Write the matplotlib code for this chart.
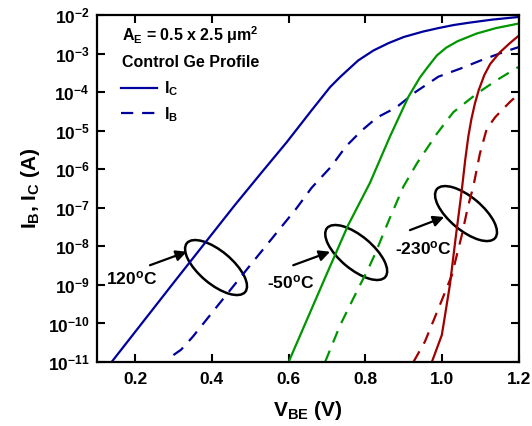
import numpy as np
import matplotlib
matplotlib.use("Agg")
import matplotlib.pyplot as plt
from matplotlib.patches import Ellipse
from matplotlib.ticker import MultipleLocator, LogLocator, FuncFormatter, NullLocator
from matplotlib.transforms import ScaledTranslation

plt.rcParams["font.family"] = ["Liberation Sans", "DejaVu Sans"]
plt.rcParams["font.weight"] = "bold"
plt.rcParams["axes.labelweight"] = "bold"
plt.rcParams["mathtext.fontset"] = "custom"
plt.rcParams["mathtext.rm"] = "Liberation Sans:bold"
plt.rcParams["mathtext.bf"] = "Liberation Sans:bold"
plt.rcParams["mathtext.it"] = "Liberation Sans:bold"
plt.rcParams["mathtext.default"] = "bf"

# VBE (V) and log10 of current (A)
vbe_ic_120 = [0.139, 0.30, 0.46, 0.53, 0.595, 0.66, 0.708, 0.734, 0.781, 0.821, 0.86, 0.90, 0.95, 0.99, 1.03, 1.07, 1.13, 1.20]
log_ic_120 = [-11.0, -8.95, -6.93, -6.08, -5.30, -4.47, -3.87, -3.61, -3.18, -2.92, -2.73, -2.57, -2.43, -2.34, -2.26, -2.20, -2.12, -2.05]
vbe_ib_120 = [0.30, 0.32, 0.35, 0.42, 0.50, 0.62, 0.66, 0.71, 0.75, 0.79, 0.83, 0.88, 0.93, 0.99, 1.05, 1.10, 1.16, 1.20]
log_ib_120 = [-10.82, -10.68, -10.35, -9.48, -8.49, -7.02, -6.48, -5.94, -5.40, -5.00, -4.66, -4.40, -4.00, -3.60, -3.38, -3.18, -2.96, -2.83]

vbe_ic_m50 = [0.60, 0.70, 0.755, 0.812, 0.864, 0.912, 0.942, 0.96, 0.986, 1.01, 1.04, 1.09, 1.14, 1.20]
log_ic_m50 = [-11.0, -8.7, -7.45, -6.35, -5.15, -4.12, -3.62, -3.38, -3.05, -2.85, -2.68, -2.48, -2.34, -2.22]
vbe_ib_m50 = [0.695, 0.734, 0.777, 0.808, 0.825, 0.86, 0.899, 0.934, 0.986, 1.029, 1.09, 1.142, 1.198]
log_ib_m50 = [-11.0, -10.05, -9.18, -8.57, -8.2, -7.35, -6.45, -5.85, -5.08, -4.52, -4.04, -3.69, -3.35]

vbe_ic_m230 = [0.973, 0.999, 1.020, 1.036, 1.046, 1.052, 1.060, 1.068, 1.076, 1.085, 1.095, 1.11, 1.125, 1.15, 1.175, 1.20]
log_ic_m230 = [-11.0, -10.3, -9.0, -7.7, -6.93, -6.45, -5.75, -5.15, -4.70, -4.30, -3.95, -3.55, -3.27, -2.97, -2.74, -2.53]
vbe_ib_m230 = [0.925, 0.955, 0.994, 1.025, 1.051, 1.068, 1.081, 1.098, 1.116, 1.138, 1.159, 1.18, 1.198]
log_ib_m230 = [-11.0, -10.47, -9.52, -8.75, -7.71, -6.93, -6.45, -5.6, -4.95, -4.65, -4.43, -4.22, -4.07]

temps = ["120$^{o}$C", "-50$^{o}$C", "-230$^{o}$C"]
colors = ["#00009c", "#009600", "#a00000"]

fig = plt.figure(figsize=(5.32, 4.26), dpi=100)
ax = fig.add_axes([0.1816, 0.1502, 0.7940, 0.8146])

dash = (0, (5.5, 4))
curves = [
    (vbe_ic_120, log_ic_120, vbe_ib_120, log_ib_120),
    (vbe_ic_m50, log_ic_m50, vbe_ib_m50, log_ib_m50),
    (vbe_ic_m230, log_ic_m230, vbe_ib_m230, log_ib_m230),
]
handles = []
for (xc, yc, xb, yb), c in zip(curves, colors):
    l1, = ax.plot(xc, 10.0 ** np.array(yc), color=c, lw=1.6)
    l2, = ax.plot(xb, 10.0 ** np.array(yb), color=c, lw=1.6, ls=dash)
    if not handles:
        handles = [l1, l2]

ax.set_yscale("log")
ax.set_xlim(0.1, 1.2)
ax.set_ylim(1e-11, 1e-2)

ax.xaxis.set_major_locator(MultipleLocator(0.2))
ax.xaxis.set_minor_locator(NullLocator())
ax.yaxis.set_major_locator(LogLocator(base=10, numticks=20))
ax.yaxis.set_minor_locator(NullLocator())
ax.yaxis.set_major_formatter(FuncFormatter(lambda v, p: r"$10^{%d}$" % round(np.log10(v))))
ax.xaxis.set_major_formatter(FuncFormatter(lambda v, p: "%.1f" % v))
ax.tick_params(direction="in", length=6, width=1.5, top=True, right=True, labelsize=12.5)
ax.tick_params(axis="y", pad=5)
ax.tick_params(axis="x", pad=7)
for lab in ax.get_xticklabels() + ax.get_yticklabels():
    lab.set_fontweight("bold")
for s in ax.spines.values():
    s.set_linewidth(1.6)

ax.set_xlabel("V$_{BE}$ (V)", fontsize=15, fontweight="bold", labelpad=9)
ax.set_ylabel("I$_B$, I$_C$ (A)", fontsize=15, fontweight="bold", labelpad=4)

ax.text(0.059, 0.924, "A$_E$ = 0.5 x 2.5 μm$^2$", transform=ax.transAxes, fontsize=11.5,
        fontweight="bold")
ax.text(0.059, 0.850, "Control Ge Profile", transform=ax.transAxes, fontsize=11.5,
        fontweight="bold")
ax.legend(handles, ["I$_C$", "I$_B$"], loc="upper left", bbox_to_anchor=(0.057, 0.815),
          frameon=False, prop={"size": 11.5, "weight": "bold"}, handlelength=2.3,
          handletextpad=0.4, borderpad=0, borderaxespad=0, labelspacing=0.45)

# ellipses grouping each temperature pair, with arrows and labels
ell_x = [0.411, 0.776, 1.062]
ell_y = [-8.55, -8.16, -7.15]
arrow_tail = [(0.239, -8.49), (0.612, -8.49), (0.916, -7.58)]
arrow_head = [(0.335, -8.14), (0.708, -8.14), (1.005, -7.24)]
label_pos = [(0.190, -8.82), (0.606, -8.93), (0.950, -8.05)]
for i in range(3):
    tr = fig.dpi_scale_trans + ScaledTranslation(ell_x[i], 10.0 ** ell_y[i], ax.transData)
    ax.add_patch(Ellipse((0, 0), 0.76, 0.33, angle=-40, transform=tr,
                         fill=False, ec="black", lw=1.8))
    ax.annotate("", xy=(arrow_head[i][0], 10.0 ** arrow_head[i][1]),
                xytext=(arrow_tail[i][0], 10.0 ** arrow_tail[i][1]),
                arrowprops=dict(arrowstyle="-|>", color="black", lw=1.6,
                                mutation_scale=16, shrinkA=0, shrinkB=0))
    ax.text(label_pos[i][0], 10.0 ** label_pos[i][1], temps[i], fontsize=12.5,
            fontweight="bold", ha="center", va="center")

fig.savefig("out.png", dpi=100)
